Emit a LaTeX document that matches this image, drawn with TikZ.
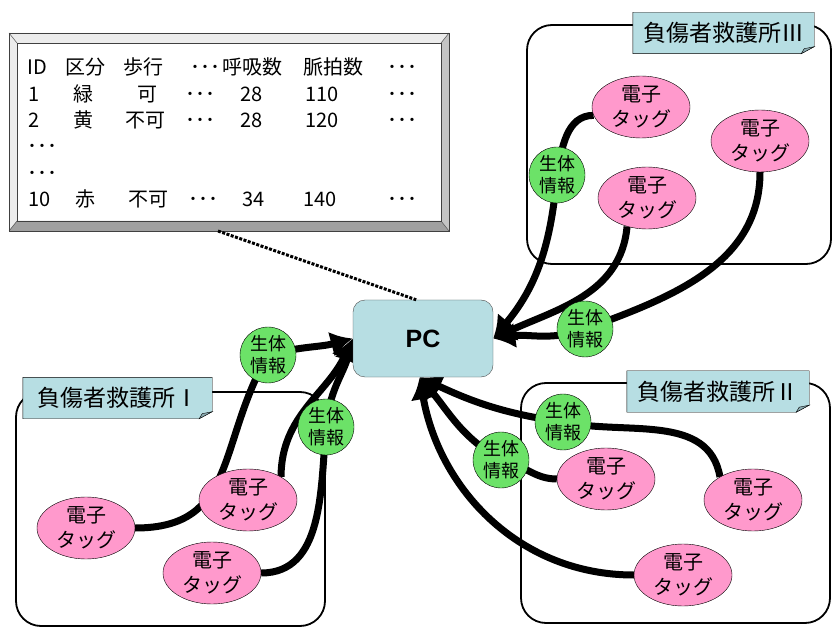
\documentclass[tikz,border=0pt]{standalone}
\usepackage{fontspec}
\setmainfont{Noto Sans CJK JP}
\newfontfamily\pcfont{Liberation Sans}
\usetikzlibrary{arrows.meta}
\usetikzlibrary{shapes.geometric}
\usetikzlibrary{backgrounds}
\definecolor{tagpink}{RGB}{255,153,204}
\definecolor{vitalgreen}{RGB}{108,226,104}
\definecolor{pcblue}{RGB}{183,222,227}
\definecolor{foldblue}{RGB}{140,172,178}
\definecolor{bevellight}{RGB}{236,236,236}
\definecolor{bevelmid}{RGB}{196,196,196}
\definecolor{beveldark}{RGB}{160,160,160}
\tikzset{
    tag/.style={ellipse, draw, thin, fill=tagpink, minimum width=98pt, minimum height=62pt,
        inner sep=0pt, align=center, font=\fontsize{20}{25}\selectfont},
    vital/.style={circle, draw, thin, fill=vitalgreen, minimum size=56pt, inner sep=0pt,
        align=center, font=\fontsize{18}{22}\selectfont},
    station/.style={draw, line width=1.8pt, rounded corners=25pt},
    stname/.style={inner sep=0pt, minimum height=41pt, font=\fontsize{23}{23}\selectfont},
    cell/.style={anchor=base west, inner sep=0pt, font=\fontsize{20}{20}\selectfont},
    flow/.style={line width=7pt, -{Latex[length=22pt, width=26pt]}},
    link/.style={line width=3pt, dash pattern=on 3pt off 1.5pt},
}
\newcommand{\namefill}[1]{%
    \path[fill=pcblue, draw, thin] (#1.north west) -- (#1.north east) -- ([yshift=7pt]#1.south east)
        -- ([xshift=-13pt]#1.south east) -- (#1.south west) -- cycle;
    \path[fill=foldblue, draw, thin] ([xshift=-13pt]#1.south east) -- ([xshift=-10pt,yshift=5pt]#1.south east)
        -- ([yshift=7pt]#1.south east) -- cycle;}

\begin{document}
\begin{tikzpicture}[x=1pt, y=1pt]
    \useasboundingbox (0,0) rectangle (832,627);
    % table
    \fill[white] (17,406) rectangle (441,584);
    \fill[bevellight] (9,594) -- (449,594) -- (441,584) -- (17,584) -- cycle;
    \fill[bevellight] (9,594) -- (17,584) -- (17,406) -- (9,396) -- cycle;
    \fill[bevelmid] (449,594) -- (449,396) -- (441,406) -- (441,584) -- cycle;
    \fill[beveldark] (9,396) -- (449,396) -- (441,406) -- (17,406) -- cycle;
    \draw[black!75] (9,396) rectangle (449,594) (17,406) rectangle (441,584);
    \draw[black!75] (9,594) -- (17,584) (449,594) -- (441,584) (9,396) -- (17,406) (449,396) -- (441,406);
    \coordinate (tabfoot) at (218,396);
    \foreach \cx/\ct [count=\i] in {27/ID, 65/区分, 123/歩行, 190/･･･, 222/呼吸数, 303/脈拍数, 387/･･･}
        \node[cell] (ra\i) at (\cx,552) {\ct};
    \foreach \cx/\ct [count=\i] in {28/1, 73/緑, 137/可, 185/･･･, 240/28, 305/110, 387/･･･}
        \node[cell] (rb\i) at (\cx,525.7) {\ct};
    \foreach \cx/\ct [count=\i] in {28/2, 73/黄, 125/不可, 185/･･･, 240/28, 305/120, 387/･･･}
        \node[cell] (rc\i) at (\cx,499.4) {\ct};
    \node[cell] (rd1) at (27,473.1) {･･･};
    \node[cell] (re1) at (27,446.8) {･･･};
    \foreach \cx/\ct [count=\i] in {28/10, 75/赤, 128/不可, 188/･･･, 242/34, 303/140, 387/･･･}
        \node[cell] (rf\i) at (\cx,420.5) {\ct};

    % PC
    \node[draw=black!70, thin, fill=pcblue, rounded corners=12pt, minimum width=140pt, minimum height=77pt,
        font=\pcfont\bfseries\fontsize{25}{25}\selectfont] (PC) at (423,288.5) {PC};

    % stations
    \begin{pgfonlayer}{background}
        \draw[station] (527,363) rectangle (831,602);
        \draw[station] (16,1) rectangle (325,235);
        \draw[station] (521,4) rectangle (830,244);
    \end{pgfonlayer}
    \node[stname, minimum width=181pt] (nameIII) at (723.5,594) {負傷者救護所Ⅲ};
    \node[stname, minimum width=189pt] (nameI) at (117.5,229) {負傷者救護所Ⅰ};
    \node[stname, minimum width=182pt] (nameII) at (718,235.5) {負傷者救護所Ⅱ};
    \begin{pgfonlayer}{background}
        \namefill{nameIII}
        \namefill{nameI}
        \namefill{nameII}
    \end{pgfonlayer}

    % tags
    \node[tag] (tagIIIa) at (641,520) {電子\\タッグ};
    \node[tag] (tagIIIb) at (760,486) {電子\\タッグ};
    \node[tag] (tagIIIc) at (647,429) {電子\\タッグ};
    \node[tag] (tagIa) at (86,99) {電子\\タッグ};
    \node[tag] (tagIb) at (248,127) {電子\\タッグ};
    \node[tag] (tagIc) at (212,54) {電子\\タッグ};
    \node[tag] (tagIIa) at (606,148) {電子\\タッグ};
    \node[tag] (tagIIb) at (753,127) {電子\\タッグ};
    \node[tag] (tagIIc) at (683,52) {電子\\タッグ};

    \node[vital] (vitIIIa) at (557,452) {生体\\情報};
    \node[vital] (vitIIIb) at (585,298) {生体\\情報};
    \node[vital] (vitIa) at (268,272) {生体\\情報};
    \node[vital] (vitIb) at (326,200) {生体\\情報};
    \node[vital] (vitIIa) at (563,205) {生体\\情報};
    \node[vital] (vitIIb) at (501,167) {生体\\情報};

    % flows
    \begin{pgfonlayer}{background}
        \draw[flow] (tagIIIa.190) to[out=180, in=80] (vitIIIa.center) to[out=-95, in=50] (PC.east);
        \draw[flow] (tagIIIc.-125) to[out=-95, in=25] (PC.east);
        \draw[flow] (tagIIIb.south) to[out=-90, in=20] (vitIIIb.center) to[out=200, in=8] (PC.east);
        \draw[flow] (tagIa.east) to[out=0, in=-120, looseness=1.2] (vitIa.center) to[out=15, in=195] (PC.west);
        \draw[flow] (tagIb.35) to[out=90, in=-115] (PC.west);
        \draw[flow] (tagIc.east) to[out=0, in=-95] (vitIb.center) to[out=85, in=-105] (PC.west);
        \draw[flow] (tagIIb.145) to[out=100, in=-12] (vitIIa.center) to[out=172, in=-25] (PC.-95);
        \draw[flow] (tagIIa.west) to[out=180, in=-10] (vitIIb.center) to[out=150, in=-50] (PC.-95);
        \draw[flow] (tagIIc.west) to[out=180, in=-80] (PC.-95);
    \end{pgfonlayer}

    \draw[link] (tabfoot) -- (PC.100);
\end{tikzpicture}
\end{document}
